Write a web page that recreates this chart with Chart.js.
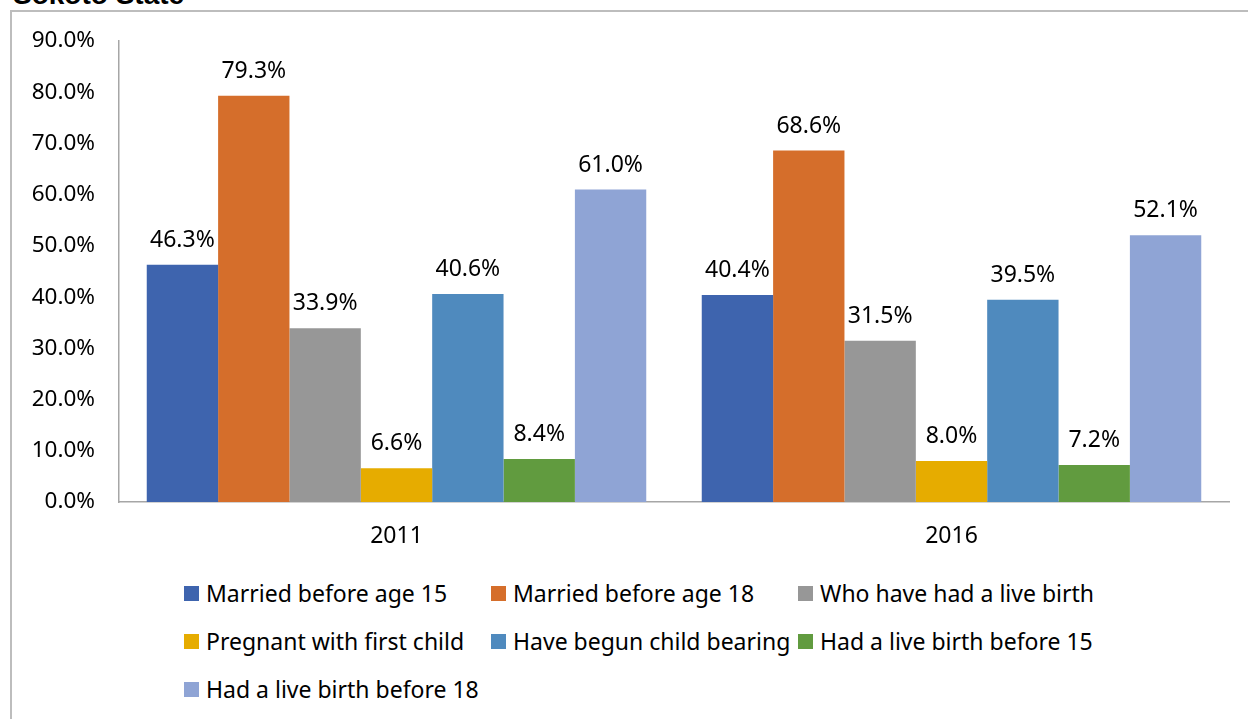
<!DOCTYPE html>
<html>
<head>
<meta charset="utf-8">
<script src="https://cdn.jsdelivr.net/npm/chart.js@4"></script>
<style>
  body { margin: 0; background: #fff; width: 1248px; height: 719px; overflow: hidden; position: relative; font-family: "Noto Sans", sans-serif; }
  #frame { position: absolute; left: 10px; top: 10px; width: 1300px; height: 800px; border: 2px solid #bdbdbd; }
  #title { position: absolute; left: 13px; top: -19px; font: bold 28px/28px "Liberation Sans", Arial, sans-serif; color: #000; white-space: nowrap; }
  #chart { position: absolute; left: 0; top: 0; }
  #legend { position: absolute; left: 184px; top: 569px; font-size: 23px; color: #000; }
  .row { display: flex; height: 48px; align-items: center; }
  .item { display: flex; align-items: center; white-space: nowrap; }
  .item:nth-child(1) { width: 307px; }
  .item:nth-child(2) { width: 307px; }
  .box { width: 15px; height: 15px; margin-right: 7px; flex: none; }
</style>
</head>
<body>
<div id="frame"></div>
<div id="title">Sokoto State</div>
<canvas id="chart" width="1248" height="560"></canvas>
<div id="legend"></div>
<script>
// Categories and series
const years = ['2011', '2016'];
const seriesNames = [
  'Married before age 15',
  'Married before age 18',
  'Who have had a live birth',
  'Pregnant with first child',
  'Have begun child bearing',
  'Had a live birth before 15',
  'Had a live birth before 18'
];
const marriedBefore15 = [46.3, 40.4];
const marriedBefore18 = [79.3, 68.6];
const hadLiveBirth = [33.9, 31.5];
const pregnantFirstChild = [6.6, 8.0];
const begunChildBearing = [40.6, 39.5];
const liveBirthBefore15 = [8.4, 7.2];
const liveBirthBefore18 = [61.0, 52.1];
const seriesColors = ['#3e64ae', '#d56e2b', '#979797', '#e6ac00', '#4f8abe', '#619b3f', '#8fa4d5'];

const seriesValues = [marriedBefore15, marriedBefore18, hadLiveBirth, pregnantFirstChild,
  begunChildBearing, liveBirthBefore15, liveBirthBefore18];

// Value labels above each bar
const valueLabels = {
  id: 'valueLabels',
  afterDatasetsDraw(chart) {
    const ctx = chart.ctx;
    ctx.save();
    ctx.font = '23px "Noto Sans"';
    ctx.fillStyle = '#000';
    ctx.textAlign = 'center';
    ctx.textBaseline = 'alphabetic';
    chart.data.datasets.forEach((ds, i) => {
      chart.getDatasetMeta(i).data.forEach((bar, j) => {
        ctx.fillText(ds.data[j].toFixed(1) + '%', bar.x, bar.y - 18);
      });
    });
    ctx.restore();
  }
};

const ctx = document.getElementById('chart').getContext('2d');
const chart = new Chart(ctx, {
  type: 'bar',
  data: {
    labels: years,
    datasets: seriesNames.map((name, i) => ({
      label: name,
      data: seriesValues[i],
      backgroundColor: seriesColors[i],
      borderWidth: 0
    }))
  },
  options: {
    responsive: false,
    animation: false,
    layout: { padding: { top: 41, right: 19, left: 0, bottom: 0 } },
    datasets: { bar: { barPercentage: 1, categoryPercentage: 0.9 } },
    plugins: { legend: { display: false }, tooltip: { enabled: false } },
    scales: {
      x: {
        grid: { display: false, drawTicks: false },
        border: { color: '#a6a6a6', width: 1.5 },
        ticks: { color: '#000', font: { family: 'Noto Sans', size: 23 }, padding: 21 },
        afterFit(scale) { scale.height = 58; }
      },
      y: {
        min: 0,
        max: 90,
        grid: { display: false, drawTicks: false },
        border: { color: '#a6a6a6', width: 1.5 },
        ticks: {
          stepSize: 10,
          color: '#000',
          padding: 24,
          font: { family: 'Noto Sans', size: 22.5 },
          callback: v => v.toFixed(1) + '%'
        },
        afterFit(scale) { scale.width = 119; }
      }
    }
  },
  plugins: [valueLabels]
});

// Legend in a grid like the original
const legend = document.getElementById('legend');
for (let r = 0; r < seriesNames.length; r += 3) {
  const row = document.createElement('div');
  row.className = 'row';
  chart.data.datasets.slice(r, r + 3).forEach(ds => {
    const item = document.createElement('div');
    item.className = 'item';
    const box = document.createElement('span');
    box.className = 'box';
    box.style.background = ds.backgroundColor;
    const text = document.createElement('span');
    text.textContent = ds.label;
    item.appendChild(box);
    item.appendChild(text);
    row.appendChild(item);
  });
  legend.appendChild(row);
}
</script>
</body>
</html>
